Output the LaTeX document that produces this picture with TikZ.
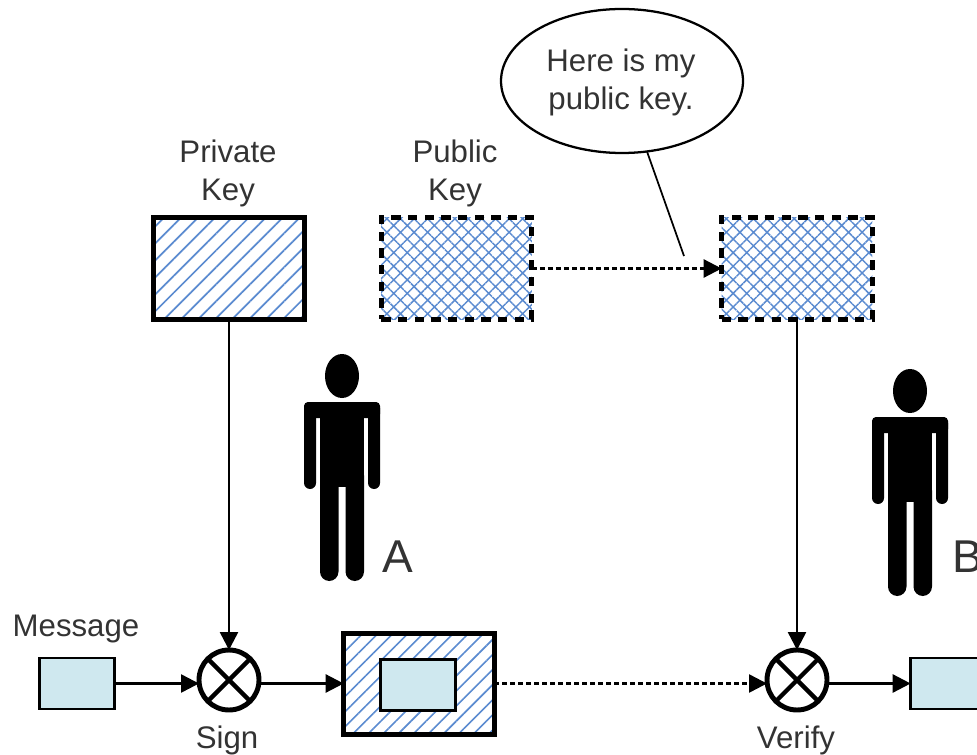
\documentclass[tikz,border=0pt]{standalone}
\usepackage{fontspec}
\setmainfont{Liberation Sans}
\usepackage{tikz}
\usetikzlibrary{arrows.meta, patterns.meta, positioning, shapes.geometric}
\definecolor{hatchblue}{HTML}{5B8BD0}
\definecolor{msgblue}{HTML}{CFE8EF}
\definecolor{labelgray}{HTML}{333333}
\tikzset{
    link/.style={-{Stealth[inset=0pt, length=13.5pt, width=13.5pt]}, line width=1.9pt},
    dotlink/.style={link, dash pattern=on 3.8pt off 2.2pt},
    keybox/.style={draw, line width=3.7pt, fill=white, minimum width=113pt, minimum height=76pt, inner sep=0pt, outer sep=0pt},
    privkey/.style={keybox, pattern={Lines[angle=45, distance=9pt, line width=1.3pt]}, pattern color=hatchblue},
    pubkey/.style={keybox, dash pattern=on 7pt off 5.5pt, pattern={Hatch[angle=45, distance=7.2pt, line width=1.1pt]}, pattern color=hatchblue},
    msgbox/.style={draw, line width=1.9pt, fill=msgblue, minimum width=56pt, minimum height=38.5pt, inner sep=0pt, outer sep=0pt},
    mixer/.style={circle, draw, line width=3.7pt, fill=white, minimum size=45pt, inner sep=0pt, outer sep=0pt,
        path picture={\draw[line width=3.2pt] (path picture bounding box.north west) -- (path picture bounding box.south east);
            \draw[line width=3.2pt] (path picture bounding box.north east) -- (path picture bounding box.south west);}},
    lbl/.style={text=labelgray, align=center, inner sep=0pt, font=\fontsize{23.4}{28.5}\selectfont},
    bigl/.style={text=labelgray, inner sep=0pt, anchor=base west, font=\fontsize{34.5}{40}\selectfont},
    person/.pic={
        \fill (0,0) ellipse [x radius=17, y radius=22];
        \fill[rounded corners=4.5pt] (-38,26) rectangle (-26,113);
        \fill[rounded corners=4.5pt] (26,26) rectangle (38,113);
        \fill[rounded corners=3pt] (-38,26) rectangle (38,42);
        \fill (-22,30) rectangle (22,111);
        \fill[rounded corners=7pt] (-22,90) rectangle (-3.5,205);
        \fill[rounded corners=7pt] (3.5,90) rectangle (22,205);
    }
}
\begin{document}
\begin{tikzpicture}[x=0.75pt, y=-0.75pt]
    \clip (0,0) rectangle (977,755);
    % Key boxes
    \node[privkey] (privA) at (229,268.5) {};
    \node[pubkey] (pubA) at (456.5,268.5) {};
    \node[pubkey] (pubB) at (797,268.5) {};
    \node[lbl] (privlbl) at (228,173) {Private\\Key};
    \node[lbl] (publbl) at (455,173) {Public\\Key};
    % Speech bubble
    \node[ellipse, draw, line width=1.7pt, minimum width=181.5pt, minimum height=108pt, inner sep=0pt, outer sep=0pt] (bubble) at (622,81) {};
    \node[lbl] (bubbletxt) at (621,82) {Here is my\\public key.};
    \coordinate (tail) at (684,256);
    \draw[line width=1.3pt] (bubble) -- (tail);
    % People
    \pic at (342,376) {person};
    \pic at (910,391) {person};
    \node[bigl] (nameA) at (382,572) {A};
    \node[bigl] (nameB) at (952,572) {B};
    % Bottom row
    \node[msgbox] (msgA) at (77,683.5) {};
    \node[mixer] (sign) at (229,680) {};
    \node[keybox, pattern={Lines[angle=45, distance=8pt, line width=1.2pt]}, pattern color=hatchblue] (signed) at (419,684) {};
    \node[msgbox] (msginner) at (418,685) {};
    \node[mixer] (verify) at (797,680) {};
    \node[msgbox] (msgB) at (948,683.5) {};
    \node[lbl, anchor=base] (msglbl) at (76,636) {Message};
    \node[lbl, anchor=base] (signlbl) at (227,748) {Sign};
    \node[lbl, anchor=base] (verifylbl) at (796,748) {Verify};
    % Connectors
    \draw[link] (privA) -- (sign);
    \draw[link] (pubB) -- (verify);
    \draw[dotlink] (pubA) -- (pubB);
    \draw[link] (msgA.east) -- (sign.west |- msgA.east);
    \draw[link] (sign.east |- msgA.east) -- (signed.west |- msgA.east);
    \draw[dotlink] (signed.east |- msgA.east) -- (verify.west |- msgA.east);
    \draw[link] (verify.east |- msgB.west) -- (msgB.west);
\end{tikzpicture}
\end{document}
